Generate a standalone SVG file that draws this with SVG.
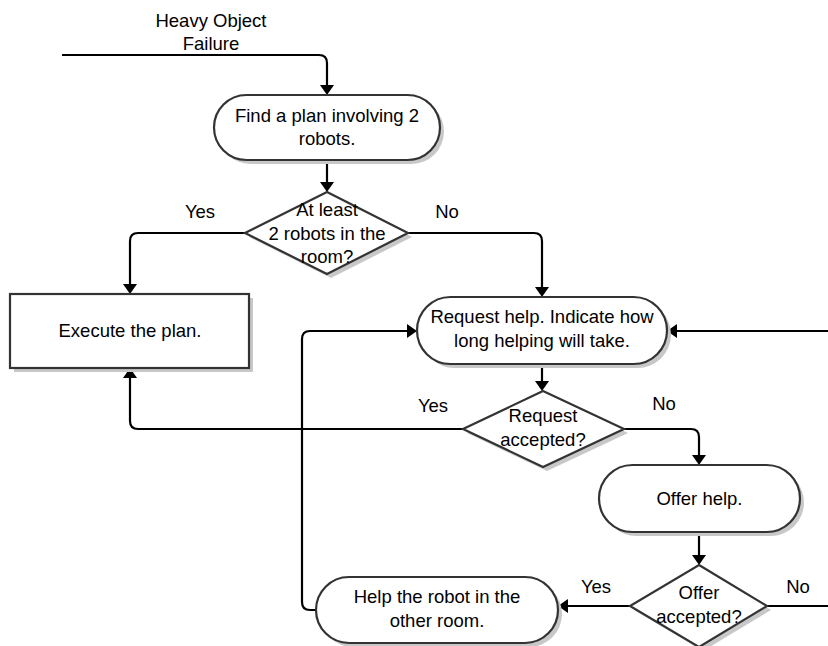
<svg xmlns="http://www.w3.org/2000/svg" width="828" height="646" viewBox="0 0 828 646">
<style>
.sh{fill:#c8c8c8;stroke:none}
.nd{fill:#ffffff;stroke:#333333;stroke-width:2.2}
.t{font-family:"Liberation Sans",Arial,sans-serif;font-size:18.5px;fill:#000;text-anchor:middle}
.c{fill:none;stroke:#000;stroke-width:2.2}
</style>
<defs>
<marker id="ah" viewBox="0 0 10 14" refX="0" refY="7" markerWidth="10" markerHeight="14" markerUnits="userSpaceOnUse" orient="auto">
<path d="M0,0 L10,7 L0,14 z" fill="#000"/>
</marker>
</defs>
<rect width="828" height="646" fill="#ffffff"/>

<g id="connectors">
<path class="c" d="M62,55 H319 Q327,55 327,63 V85" marker-end="url(#ah)"/>
<path class="c" d="M327,160 V182" marker-end="url(#ah)"/>
<path class="c" d="M245,233 H138 Q130,233 130,241 V284" marker-end="url(#ah)"/>
<path class="c" d="M408,233 H534 Q542,233 542,241 V287" marker-end="url(#ah)"/>
<path class="c" d="M542,364 V381" marker-end="url(#ah)"/>
<path class="c" d="M463,429 H138 Q130,429 130,421 V378" marker-end="url(#ah)"/>
<path class="c" d="M624,429 H691 Q699,429 699,437 V455" marker-end="url(#ah)"/>
<path class="c" d="M699,532 V555" marker-end="url(#ah)"/>
<path class="c" d="M630,606 H568" marker-end="url(#ah)"/>
<path class="c" d="M767,606 H828"/>
<path class="c" d="M828,331 H677" marker-end="url(#ah)"/>
<path class="c" d="M316,610 H310 Q302,610 302,602 V339 Q302,331 310,331 H407" marker-end="url(#ah)"/>
</g>

<g id="start-label">
<text class="t" x="211" y="27">Heavy Object</text>
<text class="t" x="211" y="50">Failure</text>
</g>

<g id="find-plan">
<rect class="sh" x="218" y="99" width="226" height="65" rx="32.5"/>
<rect class="nd" x="214" y="95" width="226" height="65" rx="32.5"/>
<text class="t" x="327" y="122">Find a plan involving 2</text>
<text class="t" x="327" y="145">robots.</text>
</g>

<g id="decision-robots">
<polygon class="sh" points="331,196 412,237 331,278 249,237"/>
<polygon class="nd" points="327,192 408,233 327,274 245,233"/>
<text class="t" x="327" y="216">At least</text>
<text class="t" x="327" y="240">2 robots in the</text>
<text class="t" x="327" y="263">room?</text>
</g>

<g id="label-yes1"><text class="t" x="200" y="218">Yes</text></g>
<g id="label-no1"><text class="t" x="447" y="218">No</text></g>

<g id="execute">
<rect class="sh" x="14" y="298" width="239" height="74"/>
<rect class="nd" x="10" y="294" width="239" height="74"/>
<text class="t" x="130" y="337">Execute the plan.</text>
</g>

<g id="request-help">
<rect class="sh" x="421" y="301" width="250" height="67" rx="33.5"/>
<rect class="nd" x="417" y="297" width="250" height="67" rx="33.5"/>
<text class="t" x="542" y="323">Request help. Indicate how</text>
<text class="t" x="542" y="347">long helping will take.</text>
</g>

<g id="decision-request">
<polygon class="sh" points="547,395 628,433 547,471 467,433"/>
<polygon class="nd" points="543,391 624,429 543,467 463,429"/>
<text class="t" x="543" y="422">Request</text>
<text class="t" x="543" y="446">accepted?</text>
</g>

<g id="label-yes2"><text class="t" x="433" y="412">Yes</text></g>
<g id="label-no2"><text class="t" x="664" y="410">No</text></g>

<g id="offer-help">
<rect class="sh" x="603" y="469" width="201" height="67" rx="33.5"/>
<rect class="nd" x="599" y="465" width="201" height="67" rx="33.5"/>
<text class="t" x="699.5" y="505">Offer help.</text>
</g>

<g id="decision-offer">
<polygon class="sh" points="703,569 771,610 703,651 634,610"/>
<polygon class="nd" points="699,565 767,606 699,647 630,606"/>
<text class="t" x="699" y="599">Offer</text>
<text class="t" x="699" y="623">accepted?</text>
</g>

<g id="label-yes3"><text class="t" x="596" y="593">Yes</text></g>
<g id="label-no3"><text class="t" x="798" y="593">No</text></g>

<g id="help-robot">
<rect class="sh" x="320" y="581" width="242" height="66" rx="33"/>
<rect class="nd" x="316" y="577" width="242" height="66" rx="33"/>
<text class="t" x="437" y="603">Help the robot in the</text>
<text class="t" x="437" y="627">other room.</text>
</g>
</svg>
